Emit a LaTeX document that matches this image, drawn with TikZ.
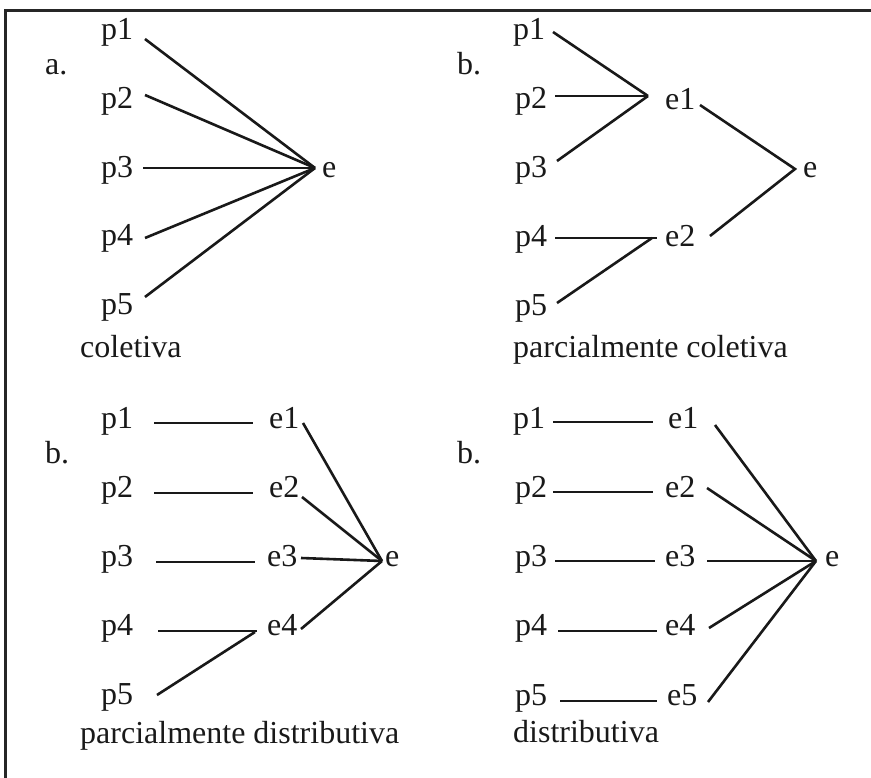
\documentclass[tikz,border=0pt]{standalone}
\usepackage{fontspec}
\setmainfont{Liberation Serif}
\begin{document}
\begin{tikzpicture}[x=1pt,y=-1pt,
  lbl/.style={anchor=base west,inner sep=0pt,font=\fontsize{32}{38}\selectfont,text=black!90},
  ln/.style={line width=2.6pt,draw=black!90},
  frame/.style={line width=3pt,draw=black!85}]
\useasboundingbox (0,0) rectangle (871,778);
% frame
\coordinate (fbl) at (5.5,778);
\coordinate (ftl) at (5.5,11);
\coordinate (ftr) at (871,11);
\draw[frame] (fbl) -- (ftl) -- (ftr);

% ---------- panel a: coletiva ----------
\node[lbl] (a-tag) at (45,75) {a.};
\node[lbl] (a-p1) at (101,40) {p1};
\node[lbl] (a-p2) at (101,109) {p2};
\node[lbl] (a-p3) at (101,178) {p3};
\node[lbl] (a-p4) at (101,246) {p4};
\node[lbl] (a-p5) at (101,315) {p5};
\node[lbl] (a-e) at (322,178) {e};
\node[lbl] (a-cap) at (80,357) {coletiva};
\coordinate (a-s1) at (145,39);
\coordinate (a-s2) at (145,95);
\coordinate (a-s3) at (143,168);
\coordinate (a-s4) at (145,238);
\coordinate (a-s5) at (145,297);
\coordinate (a-x) at (315,168);
\foreach \i in {1,...,5} \draw[ln] (a-s\i) -- (a-x);

% ---------- panel b: parcialmente coletiva ----------
\node[lbl] (b-tag) at (457,75) {b.};
\node[lbl] (b-p1) at (513,40) {p1};
\node[lbl] (b-p2) at (515,109) {p2};
\node[lbl] (b-p3) at (515,178) {p3};
\node[lbl] (b-p4) at (515,247) {p4};
\node[lbl] (b-p5) at (515,316) {p5};
\node[lbl] (b-e1) at (665,110) {e1};
\node[lbl] (b-e2) at (665,247) {e2};
\node[lbl] (b-e) at (803,178) {e};
\node[lbl] (b-cap) at (513,357) {parcialmente coletiva};
\coordinate (b-s1) at (553,32);
\coordinate (b-s2) at (555,96);
\coordinate (b-s3) at (557,161);
\coordinate (b-j1) at (648,96);
\coordinate (b-s4) at (555,238);
\coordinate (b-s5) at (557,303);
\coordinate (b-j2) at (657,238);
\coordinate (b-j2b) at (652,238);
\coordinate (b-o1) at (700,105);
\coordinate (b-o2) at (710,236);
\coordinate (b-x) at (795,169);
\foreach \i in {1,2,3} \draw[ln] (b-s\i) -- (b-j1);
\draw[ln] (b-s4) -- (b-j2);
\draw[ln] (b-s5) -- (b-j2b);
\draw[ln] (b-o1) -- (b-x) -- (b-o2);

% ---------- panel c: parcialmente distributiva ----------
\node[lbl] (c-tag) at (45,463) {b.};
\node[lbl] (c-p1) at (101,428) {p1};
\node[lbl] (c-p2) at (101,497) {p2};
\node[lbl] (c-p3) at (101,566) {p3};
\node[lbl] (c-p4) at (101,635) {p4};
\node[lbl] (c-p5) at (101,704) {p5};
\node[lbl] (c-e1) at (269,428) {e1};
\node[lbl] (c-e2) at (269,497) {e2};
\node[lbl] (c-e3) at (267,566) {e3};
\node[lbl] (c-e4) at (267,635) {e4};
\node[lbl] (c-e) at (385,566) {e};
\node[lbl] (c-cap) at (80,743) {parcialmente distributiva};
\coordinate (c-s1) at (154,423);  \coordinate (c-t1) at (253,423);
\coordinate (c-s2) at (154,493);  \coordinate (c-t2) at (253,493);
\coordinate (c-s3) at (156,562);  \coordinate (c-t3) at (255,562);
\coordinate (c-s4) at (158,631);  \coordinate (c-t4) at (257,631);
\coordinate (c-s5) at (157,695);  \coordinate (c-t5) at (255,632);
\coordinate (c-o1) at (303,423);
\coordinate (c-o2) at (302,497);
\coordinate (c-o3) at (301,558);
\coordinate (c-o4) at (301,629);
\coordinate (c-x) at (382,561);
\foreach \i in {1,...,5} \draw[ln] (c-s\i) -- (c-t\i);
\foreach \i in {1,...,4} \draw[ln] (c-o\i) -- (c-x);

% ---------- panel d: distributiva ----------
\node[lbl] (d-tag) at (457,463) {b.};
\node[lbl] (d-p1) at (513,428) {p1};
\node[lbl] (d-p2) at (515,497) {p2};
\node[lbl] (d-p3) at (515,566) {p3};
\node[lbl] (d-p4) at (515,635) {p4};
\node[lbl] (d-p5) at (515,705) {p5};
\node[lbl] (d-e1) at (668,428) {e1};
\node[lbl] (d-e2) at (665,497) {e2};
\node[lbl] (d-e3) at (665,566) {e3};
\node[lbl] (d-e4) at (665,635) {e4};
\node[lbl] (d-e5) at (667,705) {e5};
\node[lbl] (d-e) at (825,566) {e};
\node[lbl] (d-cap) at (513,742) {distributiva};
\coordinate (d-s1) at (553,422);  \coordinate (d-t1) at (653,422);
\coordinate (d-s2) at (553,492);  \coordinate (d-t2) at (653,492);
\coordinate (d-s3) at (555,561);  \coordinate (d-t3) at (655,561);
\coordinate (d-s4) at (558,631);  \coordinate (d-t4) at (657,631);
\coordinate (d-s5) at (560,701);  \coordinate (d-t5) at (657,701);
\coordinate (d-o1) at (715,425);
\coordinate (d-o2) at (707,488);
\coordinate (d-o3) at (707,561);
\coordinate (d-o4) at (709,628);
\coordinate (d-o5) at (708,702);
\coordinate (d-x) at (816,561);
\foreach \i in {1,...,5} \draw[ln] (d-s\i) -- (d-t\i);
\foreach \i in {1,...,5} \draw[ln] (d-o\i) -- (d-x);
\end{tikzpicture}
\end{document}
